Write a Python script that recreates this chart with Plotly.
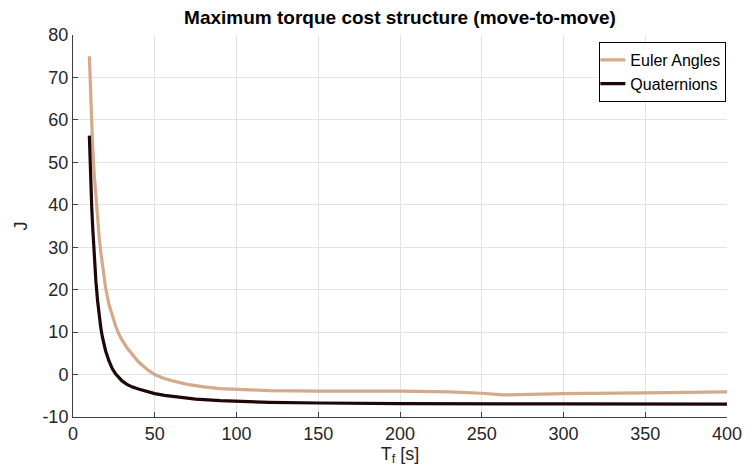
import plotly.graph_objects as go

# Final time T_f [s]
t_euler = [10, 11, 12, 13, 14, 15, 16, 17, 18, 19, 20, 22, 24, 26, 28, 30, 33, 36, 40, 45,
           50, 55, 60, 70, 80, 90, 100, 120, 150, 200, 230, 250, 263, 280, 300, 350, 400]
j_euler = [75, 63, 54, 47, 41.5, 37, 32.5, 28.8, 25.6, 22.8, 20.3, 16.5, 13.8, 11.5, 9.6, 8.1,
           6.3, 4.8, 3.0, 1.3, 0.0, -0.8, -1.4, -2.3, -2.9, -3.3, -3.5, -3.8, -3.9, -3.9,
           -4.1, -4.4, -4.8, -4.6, -4.5, -4.3, -4.1]

t_quat = [10, 10.5, 11, 11.5, 12, 12.5, 13, 14, 15, 16, 17, 18, 20, 22, 24, 26, 28, 30, 33,
          36, 40, 45, 50, 56, 65, 75, 90, 100, 120, 150, 200, 300, 400]
j_quat = [56.3, 49, 44, 39, 35, 31.5, 28.5, 22, 17.5, 14, 11, 8.8, 5.5, 3.2, 1.4, 0.2, -0.8,
          -1.5, -2.3, -2.9, -3.4, -4.0, -4.5, -4.9, -5.4, -5.8, -6.15, -6.3, -6.55, -6.7,
          -6.85, -6.92, -6.95]

x_ticks = [0, 50, 100, 150, 200, 250, 300, 350, 400]
y_ticks = [-10, 0, 10, 20, 30, 40, 50, 60, 70, 80]

font_family = "Liberation Sans, Arial, Helvetica, sans-serif"

fig = go.Figure()
fig.add_trace(go.Scatter(x=t_euler, y=j_euler, mode="lines", name="Euler Angles",
                         line=dict(color="#D4A98C", width=3.2)))
fig.add_trace(go.Scatter(x=t_quat, y=j_quat, mode="lines", name="Quaternions",
                         line=dict(color="#1F0707", width=3.2)))

axis_common = dict(
    showgrid=True, gridcolor="#E3E3E3", gridwidth=1,
    showline=True, linecolor="#404040", linewidth=1,
    ticks="inside", ticklen=5, tickcolor="#404040",
    tickfont=dict(family=font_family, size=18, color="#262626"),
    zeroline=False, mirror=False,
)

fig.update_layout(
    width=754, height=475,
    margin=dict(l=73, r=19, t=35, b=58),
    paper_bgcolor="white", plot_bgcolor="white",
    title=dict(text="<b>Maximum torque cost structure (move-to-move)</b>",
               x=0.5, xref="paper", xanchor="center", y=0.964, yanchor="middle",
               font=dict(family=font_family, size=19, color="#000000")),
    font=dict(family=font_family),
    showlegend=True,
    legend=dict(x=0.999, y=0.982, xanchor="right", yanchor="top",
                bgcolor="white", bordercolor="#000000", borderwidth=1,
                font=dict(family=font_family, size=16, color="#000000"),
                itemwidth=30, tracegroupgap=0, indentation=-10),
)
fig.update_xaxes(range=[0, 400], tickvals=x_ticks, ticktext=[str(v) for v in x_ticks],
                 title=dict(text="T<sub>f</sub> [s]", standoff=0,
                            font=dict(family=font_family, size=18, color="#262626")),
                 **axis_common)
fig.update_yaxes(range=[-10, 80], tickvals=y_ticks, ticktext=[str(v) for v in y_ticks],
                 title=dict(text="J", standoff=10,
                            font=dict(family=font_family, size=18, color="#262626")),
                 **axis_common)

fig.write_html("out.html")
